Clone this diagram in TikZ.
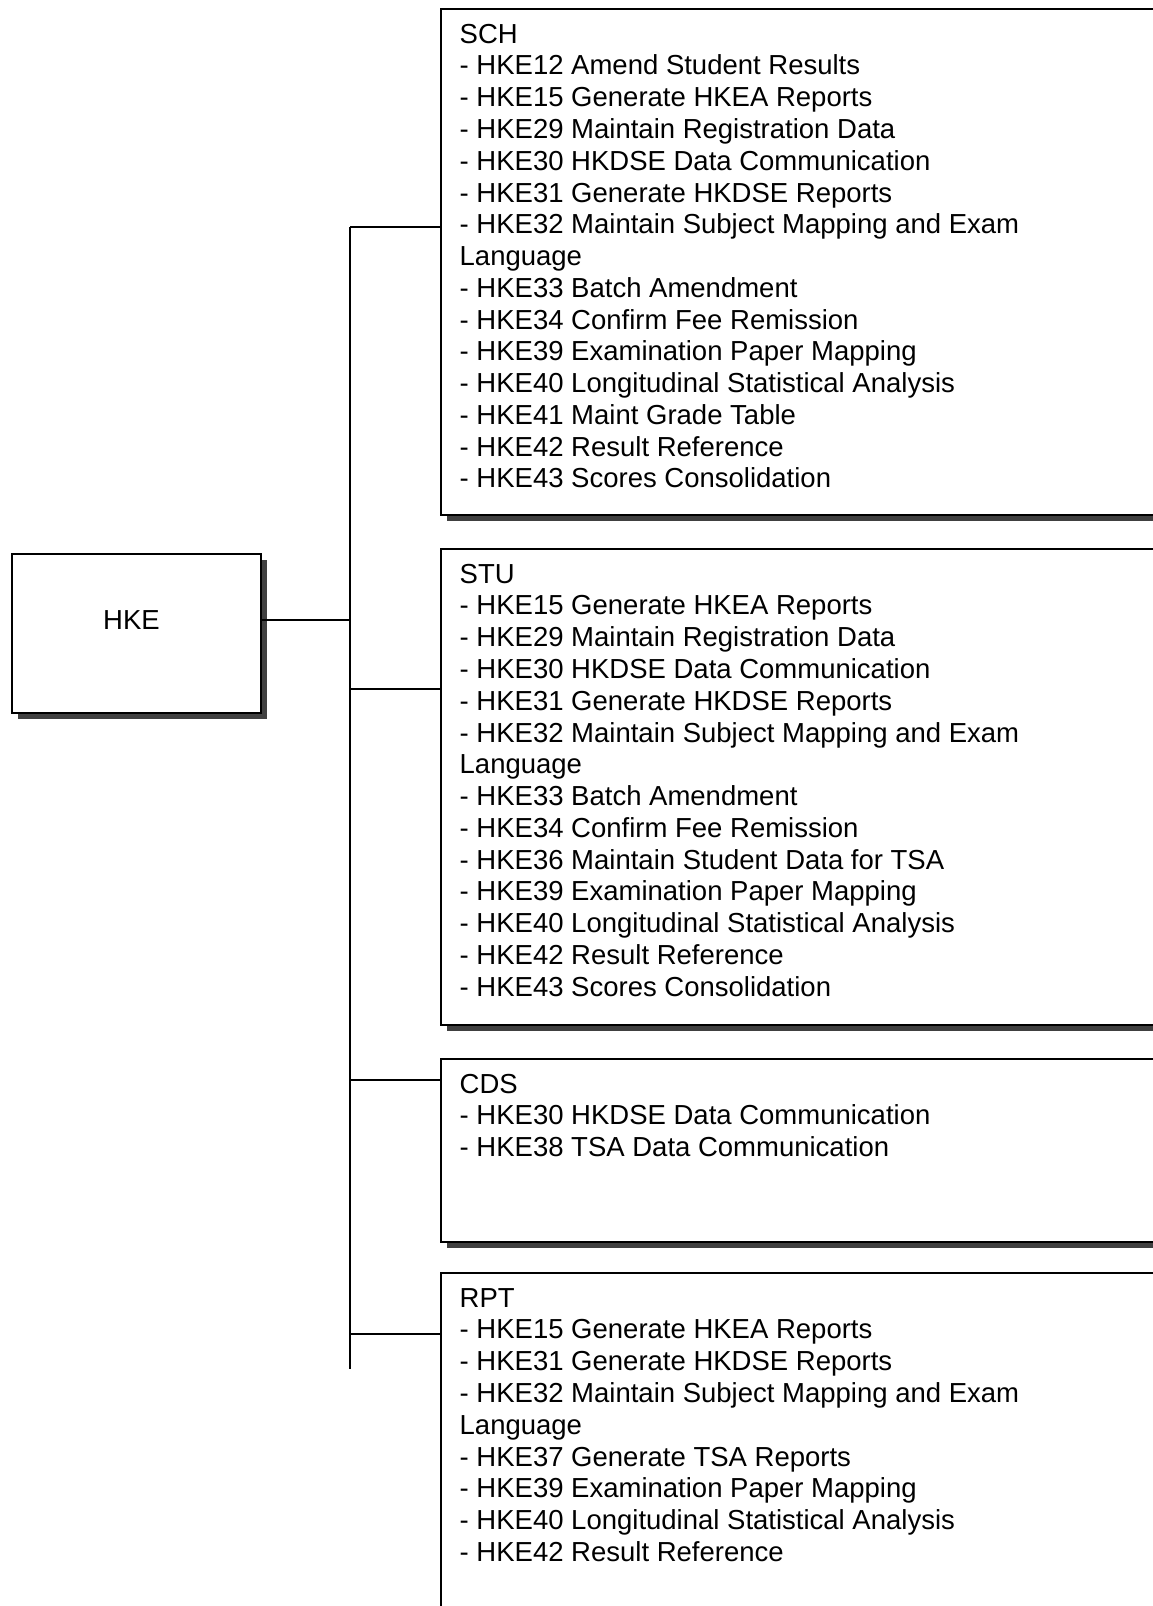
\documentclass[tikz,border=0pt]{standalone}
\usepackage{fontspec}
\setmainfont{Liberation Sans}
\usetikzlibrary{shadows}
\begin{document}
\begin{tikzpicture}[x=1pt,y=-1pt,
  box/.style={draw=black, line width=2pt, fill=white, inner sep=0pt, anchor=north west,
    drop shadow={shadow xshift=6pt, shadow yshift=-6pt, fill=black!75, opacity=1}},
  lbl/.style={inner sep=0pt, anchor=north west, align=left, font=\fontsize{27.5}{31.76}\selectfont},
  link/.style={line width=1.6pt}]
\useasboundingbox (0,0) rectangle (1153,1606);
\clip (0,0) rectangle (1153,1606);
\fill[white] (0,0) rectangle (1153,1606);

% root
\node[box, minimum width=249pt, minimum height=159pt] (hke) at (11,553) {};
\node[inner sep=0pt, font=\fontsize{27.5}{31.76}\selectfont] (hketxt) at (131.5,620) {HKE};

% boxes
\node[box, minimum width=730pt, minimum height=506pt] (sch) at (440,8) {};
\node[box, minimum width=730pt, minimum height=476pt] (stu) at (440,548) {};
\node[box, minimum width=730pt, minimum height=183pt] (cds) at (440,1058) {};
\node[box, minimum width=730pt, minimum height=400pt] (rpt) at (440,1272) {};

\node[lbl] (schtxt) at (459.5,18) {\rule{0pt}{25pt}SCH\\
- HKE12 Amend Student Results\\
- HKE15 Generate HKEA Reports\\
- HKE29 Maintain Registration Data\\
- HKE30 HKDSE Data Communication\\
- HKE31 Generate HKDSE Reports\\
- HKE32 Maintain Subject Mapping and Exam\\
Language\\
- HKE33 Batch Amendment\\
- HKE34 Confirm Fee Remission\\
- HKE39 Examination Paper Mapping\\
- HKE40 Longitudinal Statistical Analysis\\
- HKE41 Maint Grade Table\\
- HKE42 Result Reference\\
- HKE43 Scores Consolidation};

\node[lbl] (stutxt) at (459.5,558) {\rule{0pt}{25pt}STU\\
- HKE15 Generate HKEA Reports\\
- HKE29 Maintain Registration Data\\
- HKE30 HKDSE Data Communication\\
- HKE31 Generate HKDSE Reports\\
- HKE32 Maintain Subject Mapping and Exam\\
Language\\
- HKE33 Batch Amendment\\
- HKE34 Confirm Fee Remission\\
- HKE36 Maintain Student Data for TSA\\
- HKE39 Examination Paper Mapping\\
- HKE40 Longitudinal Statistical Analysis\\
- HKE42 Result Reference\\
- HKE43 Scores Consolidation};

\node[lbl] (cdstxt) at (459.5,1068) {\rule{0pt}{25pt}CDS\\
- HKE30 HKDSE Data Communication\\
- HKE38 TSA Data Communication};

\node[lbl] (rpttxt) at (459.5,1282) {\rule{0pt}{25pt}RPT\\
- HKE15 Generate HKEA Reports\\
- HKE31 Generate HKDSE Reports\\
- HKE32 Maintain Subject Mapping and Exam\\
Language\\
- HKE37 Generate TSA Reports\\
- HKE39 Examination Paper Mapping\\
- HKE40 Longitudinal Statistical Analysis\\
- HKE42 Result Reference};

% connectors
\coordinate (j0) at (350,620);
\coordinate (b1) at (350,227);
\coordinate (b2) at (350,689);
\coordinate (b3) at (350,1080);
\coordinate (b4) at (350,1334);
\coordinate (bend) at (350,1369);
\draw[link] (hke.east |- j0) -- (j0);
\draw[link] (b1) -- (bend);
\draw[link] (b1) -- (sch.west |- b1);
\draw[link] (b2) -- (stu.west |- b2);
\draw[link] (b3) -- (cds.west |- b3);
\draw[link] (b4) -- (rpt.west |- b4);
\end{tikzpicture}
\end{document}
